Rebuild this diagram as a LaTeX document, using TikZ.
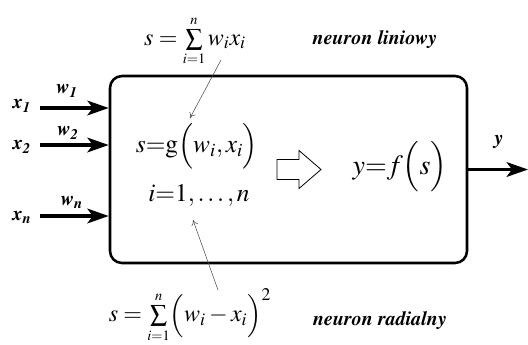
\documentclass[tikz,border=0pt]{standalone}
\usepackage[T1]{fontenc}
\usepackage{mathptmx}
\usetikzlibrary{arrows.meta}

\newcommand{\bi}[1]{{\bfseries\itshape #1}}

\begin{document}
\begin{tikzpicture}[x=0.75pt, y=-0.75pt, >=Stealth,
  inarr/.style={line width=2.5pt, -{Stealth[length=16pt, width=11pt, inset=4pt]}},
  thin/.style={line width=0.4pt, gray!60!black, -{To[length=4pt, width=5pt]}},
  lbl/.style={inner sep=0pt, font=\fontsize{15}{17}\selectfont},
  nlbl/.style={inner sep=0pt, font=\fontsize{15}{17}\selectfont\bfseries\itshape},
  frm/.style={inner sep=0pt, font=\fontsize{19}{22}\selectfont}]
  \useasboundingbox (0,0) rectangle (528,344);

  % neuron body
  \node[draw, line width=1.9pt, rounded corners=9pt, minimum width=267.75pt,
        minimum height=140.25pt] (neuron) at (288.5,169.5) {};

  % inputs
  \node[lbl] (x1) at (22,106) {\bi{x}\textsubscript{\bi{1}}};
  \node[lbl] (x2) at (22,147) {\bi{x}\textsubscript{\bi{2}}};
  \node[lbl] (xn) at (22,218) {\bi{x}\textsubscript{\bi{n}}};
  \node[lbl] (w1) at (67,91)  {\bi{w}\textsubscript{\bi{1}}};
  \node[lbl] (w2) at (68,133) {\bi{w}\textsubscript{\bi{2}}};
  \node[lbl] (wn) at (72,203) {\bi{w}\textsubscript{\bi{n}}};
  \coordinate (i1) at (40,108);
  \coordinate (i2) at (40,145);
  \coordinate (in) at (40,216);
  \draw[inarr] (i1) -- (i1 -| neuron.west);
  \draw[inarr] (i2) -- (i2 -| neuron.west);
  \draw[inarr] (in) -- (in -| neuron.west);

  % inside
  \node[frm] (gfun) at (197,146) {$s{=}\mathrm{g}\Bigl(w_{i},x_{i}\Bigr)$};
  \node[frm] (irng) at (199,195) {$i{=}1,\ldots,n$};
  \node[inner sep=0pt, font=\fontsize{21}{24}\selectfont] (yfun) at (400,167)
    {$y{=}f\Bigl(s\Bigr)$};
  \draw[line width=0.6pt] (277,159.5) -- (299,159.5) -- (299,150.5) -- (321,169.5)
    -- (299,188.5) -- (299,179.5) -- (277,179.5) -- cycle;

  % output
  \coordinate (out) at (528,169.5);
  \node[lbl] (ylbl) at (499,142) {\bi{y}};
  \draw[inarr] (neuron.east |- out) -- (out);

  % variants
  \node[inner sep=0pt, font=\fontsize{18}{21}\selectfont] (slin) at (195,41)
    {$s=\mathop{\textstyle\sum}\limits_{\scriptscriptstyle i=1}^{\scriptscriptstyle n}
      w_{i}x_{i}$};
  \node[nlbl] (lin) at (375,40) {neuron liniowy};
  \node[inner sep=0pt, font=\fontsize{18}{21}\selectfont] (srad) at (190,316)
    {$s=\mathop{\textstyle\sum}\limits_{\scriptscriptstyle i=1}^{\scriptscriptstyle n}
      \Bigl(w_{i}-x_{i}\Bigr)^{2}$};
  \node[nlbl] (rad) at (380,321) {neuron radialny};
  \coordinate (a1) at (221,60);
  \coordinate (a2) at (218,290);
  \draw[thin] (a1) -- (190,118);
  \draw[thin] (a2) -- (193,220);
\end{tikzpicture}
\end{document}
